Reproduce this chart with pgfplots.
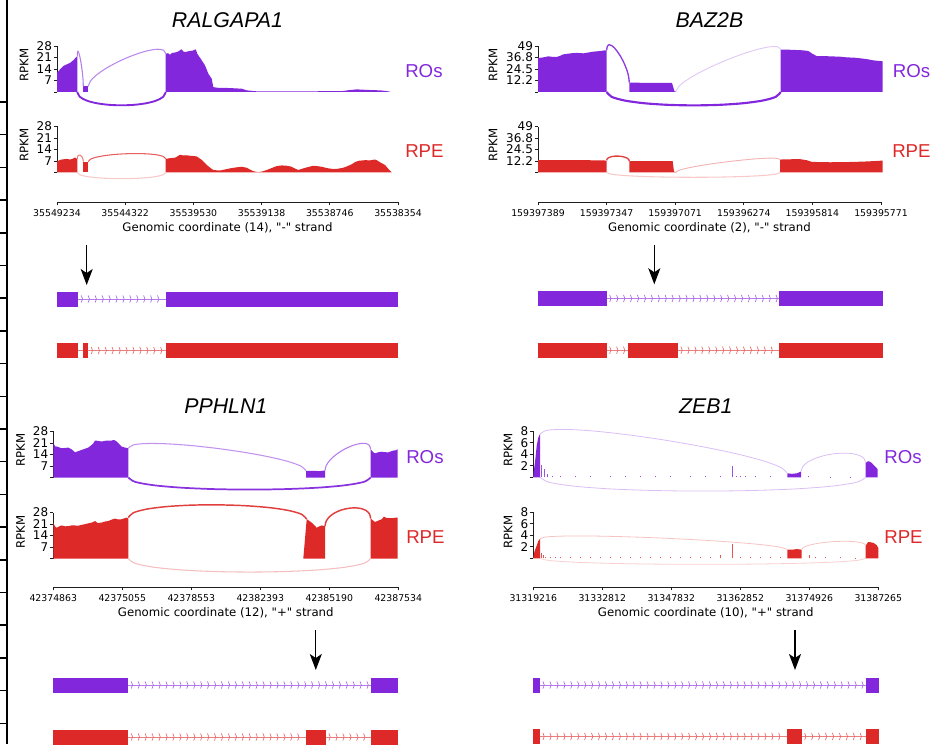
\documentclass[border=0pt]{standalone}
\usepackage{pgfplots}
\pgfplotsset{compat=1.18}
\usepackage{fontspec}
\setmainfont{DejaVu Sans}[Ligatures=TeXOff]
\newfontfamily\arialfont{Liberation Sans}
\usetikzlibrary{arrows.meta,decorations.markings}
\definecolor{ROc}{RGB}{131,39,221}
\definecolor{RPEc}{RGB}{222,41,41}
\definecolor{axc}{RGB}{30,30,30}
\tikzset{
  chev/.style={postaction={decorate,decoration={markings,
    mark=between positions 3pt and -1pt step 5.2pt with {\draw[#1,line width=0.5pt] (-0.8pt,2.7pt) .. controls (0.5pt,1.2pt) and (0.5pt,-1.2pt) .. (-0.8pt,-2.7pt);}}}},
}
\pgfplotsset{
  covaxis/.style={scale only axis, clip=false, axis y line*=left, axis x line=none,
    height=34.5pt, ymin=0, tick align=outside, major tick length=2.4pt,
    every tick/.style={axc,line width=0.6pt}, y axis line style={axc,line width=0.6pt},
    yticklabel style={font=\fontsize{9}{9}\selectfont, inner sep=1.2pt}},
  xonly/.style={scale only axis, clip=false, axis x line*=bottom, axis y line=none,
    height=1pt, ymin=0, ymax=1, tick align=outside, major tick length=2.6pt,
    every tick/.style={axc,line width=0.6pt}, x axis line style={axc,line width=0.6pt},
    xticklabel style={font=\fontsize{7}{7}\selectfont, inner sep=3pt},
    xlabel style={font=\fontsize{8.8}{9}\selectfont, inner sep=1pt}},
  genaxis/.style={scale only axis, clip=false, hide axis, y dir=reverse},
  exon/.style={line width=11.25pt, line cap=butt, color=#1},
  intron/.style={line width=0.6pt, color=#1!60!white},
  cov/.style={fill=#1, draw=none},
  jx/.style={smooth, tension=0.5, color=#1},
}
\newcommand{\ttl}[3]{\node[font=\arialfont\itshape\fontsize{16}{16}\selectfont] at (#1pt,#2pt) {#3};}
\newcommand{\sidelab}[4]{\node[anchor=west, inner sep=0pt, text=#3, font=\arialfont\fontsize{14}{14}\selectfont] at (#1pt,#2pt) {#4};}
\newcommand{\rpkm}[2]{\node[rotate=90, font=\fontsize{8.8}{9}\selectfont] at (#1pt,#2pt) {RPKM};}
\begin{document}
\begin{tikzpicture}
\path[use as bounding box] (0,0) rectangle (699.75pt,558pt);

% left edge
\begin{axis}[at={(5.25pt,0pt)}, anchor=south west, scale only axis, width=1pt, height=558pt,
  xmin=0, xmax=1, ymin=0, ymax=744, y dir=reverse, axis y line*=left, axis x line=none,
  ytick={102,134.7,167.4,200.1,232.8,265.5,298.2,330.9,363.6,396.3,429,461.7,494.4,527.1,559.8,592.5,625.2,657.9,690.6,723.3},
  yticklabel=\empty, tick align=outside, major tick length=5.25pt,
  every tick/.style={black,line width=1.1pt}, y axis line style={black,line width=1.3pt}]
\addplot[draw=none] coordinates {(0,0)};
\end{axis}

% ================= Panel 1 RALGAPA1 =================
\ttl{170.6}{542.6}{RALGAPA1}
\begin{axis}[covaxis, at={(42.75pt,489pt)}, anchor=south west, width=255.75pt,
  xmin=57, xmax=398, ymax=28, ytick={0,7,14,21,28}, yticklabels={,7,14,21,28}]
\addplot[cov=ROc] coordinates {(57,11.5) (60,13.8) (63.3,15.8) (66.7,16.8) (70,17.7) (73.3,19.3) (76,21.1) (77.3,21.9)} \closedcycle;
\addplot[cov=ROc] coordinates {(83.3,3.4) (88.3,3.4)} \closedcycle;
\addplot[cov=ROc] coordinates {(165.7,23.3) (168,23.6) (170,22.7) (172,23.8) (175,24) (178,24.6) (180,25.4) (181.7,26) (183,24.8) (185,24.3) (187,24.6) (190,25) (193,25.2) (195.7,26) (197.3,23.3) (201.7,19.3) (205,16.2) (208.3,11.2) (211.7,8.1) (213.3,3) (216.7,2.6) (230,2.4) (241.7,2) (246.7,1) (256.7,0.4) (300,0.35) (343,0.6) (350,1.2) (356.7,1.6) (363,1.4) (370,1.2) (380,1) (386,0.6) (390,0.2)} \closedcycle;
\addplot[jx=ROc!60!white, line width=0.8pt] coordinates {(77.3,21.9) (77.47,24.08) (77.92,24.78) (78.6,24.2) (79.41,22.59) (80.3,20.15) (81.19,17.11) (82.0,13.7) (82.68,10.12) (83.13,6.62) (83.3,3.4)};
\addplot[jx=ROc!55!white, line width=0.8pt] coordinates {(88.3,3.4) (90.47,6.66) (96.35,10.27) (105.02,14.0) (115.54,17.6) (127.0,20.85) (138.46,23.5) (148.98,25.3) (157.65,26.03) (163.53,25.44) (165.7,23.3)};
\addplot[jx=ROc, line width=1.4pt] coordinates {(77.3,0) (79.78,-2.92) (86.49,-5.18) (96.39,-6.8) (108.42,-7.78) (121.5,-8.1) (134.58,-7.78) (146.61,-6.8) (156.51,-5.18) (163.22,-2.92) (165.7,0)};
\end{axis}
\sidelab{303.75}{504.4}{ROc}{ROs}
\rpkm{18}{509.25}

\begin{axis}[covaxis, at={(42.75pt,428.625pt)}, anchor=south west, width=255.75pt,
  xmin=57, xmax=398, ymax=28, ytick={0,7,14,21,28}, yticklabels={,7,14,21,28}]
\addplot[cov=RPEc] coordinates {(57,6.6) (60,7.7) (63,8) (66.7,8.3) (70,7.9) (72,8.2) (75,9.1) (77.3,8.3)} \closedcycle;
\addplot[cov=RPEc] coordinates {(83.3,6.6) (88.3,6.6)} \closedcycle;
\addplot[cov=RPEc] coordinates {(165.7,8.3) (170,8.7) (175,9) (178,10) (180,10.8) (183,10.4) (186,10.5) (190,10.2) (196.7,9.8) (201.7,7.7) (206.7,4.6) (210,3) (213.3,1.5) (220,1.2) (230,2.5) (236,3.1) (241.7,3.5) (246.7,2.9) (250,1.8) (253.3,0.8) (258.3,0.2) (262,0.6) (266.7,1.5) (272,2.8) (276.7,3.9) (282,4.3) (286.7,4.1) (291,3.6) (293.3,2.9) (298.3,1.5) (303.3,2.5) (308,3.3) (313.3,4.1) (318,3.8) (321.7,3.5) (326.7,2.7) (333.3,2.1) (338,2.3) (343.3,2.9) (348,4) (351.7,5) (355,6.3) (358.3,7.1) (365,7.5) (370,7.4) (375,7.9) (377,7.4) (380,6.2) (385,4.6) (389.3,1.5) (391.7,0.2)} \closedcycle;
\addplot[jx=RPEc!60!white, line width=0.8pt] coordinates {(77.3,8.3) (77.47,9.33) (77.92,10.04) (78.6,10.45) (79.41,10.58) (80.3,10.45) (81.19,10.08) (82.0,9.49) (82.68,8.7) (83.13,7.73) (83.3,6.6)};
\addplot[jx=RPEc!75!white, line width=0.8pt] coordinates {(88.3,6.6) (90.47,8.08) (96.35,9.32) (105.02,10.31) (115.54,11.02) (127.0,11.43) (138.46,11.52) (148.98,11.27) (157.65,10.66) (163.53,9.68) (165.7,8.3)};
\addplot[jx=RPEc!25!white, line width=0.8pt] coordinates {(77.3,0) (79.78,-1.35) (86.49,-2.4) (96.39,-3.15) (108.42,-3.6) (121.5,-3.75) (134.58,-3.6) (146.61,-3.15) (156.51,-2.4) (163.22,-1.35) (165.7,0)};
\end{axis}
\sidelab{303.75}{444.4}{RPEc}{RPE}
\rpkm{18}{449.25}

\begin{axis}[xonly, at={(42.75pt,406.5pt)}, anchor=south west, width=255.75pt, xmin=57, xmax=398,
  xtick={57,125.2,193.4,261.6,329.8,398},
  xticklabels={35549234,35544322,35539530,35539138,35538746,35538354},
  xlabel={Genomic coordinate (14), "-" strand}]
\addplot[draw=none] coordinates {(57,0)};
\end{axis}

\begin{axis}[genaxis, at={(42.75pt,284.25pt)}, anchor=south west, width=255.75pt, height=93.75pt,
  xmin=57, xmax=398, ymin=240, ymax=365]
\addplot[intron=ROc, chev=ROc!70!white] coordinates {(78.3,299) (165.7,299)};
\addplot[exon=ROc] coordinates {(56.7,299) (78.3,299)};
\addplot[exon=ROc] coordinates {(165.7,299) (398.3,299)};
\addplot[intron=RPEc] coordinates {(78.3,350.5) (82.7,350.5)};
\addplot[intron=RPEc, chev=RPEc!70!white] coordinates {(88.3,350.5) (165.7,350.5)};
\addplot[exon=RPEc] coordinates {(56.7,350.5) (78.3,350.5)};
\addplot[exon=RPEc] coordinates {(82.7,350.5) (88.3,350.5)};
\addplot[exon=RPEc] coordinates {(165.7,350.5) (398.3,350.5)};
\addplot[black, line width=1pt, -{Stealth[length=12pt,width=9pt,inset=3pt]}] coordinates {(86.7,245) (86.7,285)};
\end{axis}

% ================= Panel 2 BAZ2B =================
\ttl{532.1}{542.6}{BAZ2B}
\begin{axis}[covaxis, at={(403.5pt,489pt)}, anchor=south west, width=257.25pt,
  xmin=538, xmax=881, ymax=49, ytick={0,12.25,24.5,36.75,49}, yticklabels={,12.2,24.5,36.8,49}]
\addplot[cov=ROc] coordinates {(538,36.2) (543,36.8) (548.3,38) (552,37.5) (556.7,37.3) (560,38.5) (563.3,40.1) (568,40.8) (573.3,41.5) (578,41.6) (583.3,41.2) (588,42) (593.3,43) (600,43.6) (605,44.4) (606.7,44.4)} \closedcycle;
\addplot[cov=ROc] coordinates {(629.3,9.9) (650,9.8) (672,9.6) (674.5,0.8) (676,0.3)} \closedcycle;
\addplot[cov=ROc] coordinates {(780.7,45.1) (790,45) (796.7,44.7) (803,44.4) (808.3,43.7) (812,41) (816.7,38.3) (823,38.3) (830,38) (840,37.6) (846.7,36.9) (855,36.5) (863.3,35.5) (868,34.8) (873.3,33.7) (878,33.2) (882.7,32.7)} \closedcycle;
\addplot[jx=ROc!90!white, line width=1pt] coordinates {(606.7,44.4) (607.33,48.83) (609.05,50.41) (611.58,49.55) (614.66,46.66) (618.0,42.15) (621.35,36.44) (624.42,29.95) (626.95,23.09) (628.67,16.27) (629.3,9.9)};
\addplot[jx=ROc!25!white, line width=0.7pt] coordinates {(676,0.5) (678.93,6.07) (686.89,12.82) (698.62,20.21) (712.85,27.72) (728.35,34.8) (743.85,40.92) (758.08,45.55) (769.81,48.14) (777.77,48.17) (780.7,45.1)};
\addplot[jx=ROc, line width=1.6pt] coordinates {(606.7,0) (611.57,-5.13) (624.8,-9.12) (644.28,-11.97) (667.95,-13.68) (693.7,-14.25) (719.45,-13.68) (743.12,-11.97) (762.6,-9.12) (775.83,-5.13) (780.7,0)};
\end{axis}
\sidelab{669.5}{504.4}{ROc}{ROs}
\rpkm{369.75}{509.25}

\begin{axis}[covaxis, at={(403.5pt,428.625pt)}, anchor=south west, width=257.25pt,
  xmin=538, xmax=881, ymax=49, ytick={0,12.25,24.5,36.75,49}, yticklabels={,12.2,24.5,36.8,49}]
\addplot[cov=RPEc] coordinates {(538,13.1) (560,13.3) (580,13.1) (600,13.0) (606.7,12.7)} \closedcycle;
\addplot[cov=RPEc] coordinates {(629.3,12.2) (650,12.1) (672.7,12) (674,1) (676,0.3)} \closedcycle;
\addplot[cov=RPEc] coordinates {(780,13.8) (790,14.1) (800,14.2) (806.7,13.1) (811.7,11.3) (820,11.1) (830,10.9) (846.7,11.1) (863.3,11.6) (875,12.2) (882.7,12.7)} \closedcycle;
\addplot[jx=RPEc!90!white, line width=1pt] coordinates {(606.7,13) (607.33,14.74) (609.05,16.04) (611.58,16.93) (614.66,17.4) (618.0,17.48) (621.35,17.16) (624.42,16.47) (626.95,15.4) (628.67,13.98) (629.3,12.2)};
\addplot[jx=RPEc!35!white, line width=0.7pt] coordinates {(676,0.3) (678.9,2.3) (686.8,4.58) (698.5,7.0) (712.6,9.37) (728,11.55) (743.4,13.37) (757.5,14.66) (769.2,15.28) (777.1,15.04) (780,13.8)};
\addplot[jx=RPEc!25!white, line width=0.8pt] coordinates {(606.7,0) (611.55,-1.84) (624.72,-3.26) (644.13,-4.28) (667.7,-4.9) (693.35,-5.1) (719.0,-4.9) (742.57,-4.28) (761.98,-3.26) (775.15,-1.84) (780,0)};
\end{axis}
\sidelab{669}{444.4}{RPEc}{RPE}
\rpkm{369.75}{449.25}

\begin{axis}[xonly, at={(403.5pt,406.5pt)}, anchor=south west, width=257.25pt, xmin=538, xmax=881,
  xtick={538,606.6,675.2,743.8,812.4,881},
  xticklabels={159397389,159397347,159397071,159396274,159395814,159395771},
  xlabel={Genomic coordinate (2), "-" strand}]
\addplot[draw=none] coordinates {(538,0)};
\end{axis}

\begin{axis}[genaxis, at={(403.5pt,284.25pt)}, anchor=south west, width=257.25pt, height=93.75pt,
  xmin=538, xmax=881, ymin=240, ymax=365]
\addplot[intron=ROc, chev=ROc!70!white] coordinates {(606.7,298.5) (779.3,298.5)};
\addplot[exon=ROc] coordinates {(537.7,298.5) (606.7,298.5)};
\addplot[exon=ROc] coordinates {(779.3,298.5) (882.7,298.5)};
\addplot[intron=RPEc, chev=RPEc!70!white] coordinates {(606.7,350.2) (628,350.2)};
\addplot[intron=RPEc, chev=RPEc!70!white] coordinates {(678,350.2) (779.3,350.2)};
\addplot[exon=RPEc] coordinates {(537.7,350.2) (606.7,350.2)};
\addplot[exon=RPEc] coordinates {(628,350.2) (678,350.2)};
\addplot[exon=RPEc] coordinates {(779.3,350.2) (882.7,350.2)};
\addplot[black, line width=1pt, -{Stealth[length=12pt,width=9pt,inset=3pt]}] coordinates {(654.3,245) (654.3,284.3)};
\end{axis}

% ================= Panel 3 PPHLN1 =================
\ttl{169.35}{253.1}{PPHLN1}
\begin{axis}[covaxis, at={(39.975pt,199.875pt)}, anchor=south west, width=258.75pt,
  xmin=53.3, xmax=398.3, ymax=28, ytick={0,7,14,21,28}, yticklabels={,7,14,21,28}]
\addplot[cov=ROc] coordinates {(53.3,21.3) (55,19) (57,18.8) (61.7,17.8) (65,18) (68.3,18.2) (72,17) (75,15.3) (78,16) (81.7,16.8) (85,17.5) (88.3,18.2) (91,19.5) (93.3,20.8) (95,22.5) (98,22.3) (101.7,21.9) (106,22.4) (111.7,22.5) (114,22.9) (116.7,21.9) (119,20.5) (121.7,18.8) (125,18.2) (128.3,17.8)} \closedcycle;
\addplot[cov=ROc] coordinates {(306,4.1) (315,4.0) (320,3.9) (325,4.3)} \closedcycle;
\addplot[cov=ROc] coordinates {(370.7,17.2) (373,15.5) (375,14.7) (378,15.3) (381.7,15.7) (385,15.4) (388.3,15.3) (391,15.9) (393.3,16.4) (396,16.6) (397.7,17.2)} \closedcycle;
\addplot[jx=ROc!50!white, line width=0.8pt] coordinates {(128.3,17.8) (133.28,19.85) (146.78,20.7) (166.68,20.51) (190.85,19.46) (217.15,17.7) (243.45,15.4) (267.62,12.73) (287.52,9.84) (301.02,6.91) (306,4.1)};
\addplot[jx=ROc!60!white, line width=0.8pt] coordinates {(325,4.3) (326.28,7.36) (329.75,10.44) (334.87,13.39) (341.09,16.04) (347.85,18.25) (354.61,19.86) (360.83,20.71) (365.95,20.66) (369.42,19.54) (370.7,17.2)};
\addplot[jx=ROc!95!white, line width=1.3pt] coordinates {(128.3,0) (135.09,-2.65) (153.51,-4.7) (180.66,-6.17) (213.62,-7.06) (249.5,-7.35) (285.38,-7.06) (318.34,-6.17) (345.49,-4.7) (363.91,-2.65) (370.7,0)};
\end{axis}
\sidelab{304.5}{215.25}{ROc}{ROs}
\rpkm{15.5}{220.5}

\begin{axis}[covaxis, at={(39.975pt,139.125pt)}, anchor=south west, width=258.75pt,
  xmin=53.3, xmax=398.3, ymax=28, ytick={0,7,14,21,28}, yticklabels={,7,14,21,28}]
\addplot[cov=RPEc] coordinates {(53.3,21.8) (55,19.5) (56.7,18.7) (60,19.8) (61.7,20.1) (65,19.6) (68.3,19.7) (72,20.2) (75,20.1) (78,19.9) (81.7,20.5) (85,20.9) (88.3,21.4) (92,21.9) (95,22.8) (98,21.5) (101.7,21.9) (105,22.5) (108.3,22.8) (111,23.5) (115,24.3) (118,23.8) (121.7,23.9) (124,24.4) (126.7,24.9) (128.3,24.3)} \closedcycle;
\addplot[cov=RPEc] coordinates {(303.3,0) (305,12) (306.7,23.9) (309,23) (311.7,21.8) (314,20.5) (316.7,18.7) (319,19.5) (321.7,20.1) (325,19.7)} \closedcycle;
\addplot[cov=RPEc] coordinates {(370.7,24.3) (373,23.2) (375,22.2) (378,23) (381.7,23.9) (384,25.5) (386,24.8) (388,24.6) (391.7,24.5) (395,24.8) (397.7,24.9)} \closedcycle;
\addplot[jx=RPEc!90!white, line width=1.1pt] coordinates {(128.3,24.9) (133.3,27.84) (146.85,30.08) (166.83,31.61) (191.1,32.47) (217.5,32.65) (243.9,32.17) (268.17,31.05) (288.15,29.28) (301.7,26.9) (306.7,23.9)};
\addplot[jx=RPEc!90!white, line width=1.1pt] coordinates {(325,19.7) (326.28,22.88) (329.75,25.6) (334.87,27.81) (341.09,29.46) (347.85,30.48) (354.61,30.82) (360.83,30.43) (365.95,29.24) (369.42,27.22) (370.7,24.3)};
\addplot[jx=RPEc!30!white, line width=0.8pt] coordinates {(128.3,0) (135.09,-2.97) (153.51,-5.28) (180.66,-6.93) (213.62,-7.92) (249.5,-8.25) (285.38,-7.92) (318.34,-6.93) (345.49,-5.28) (363.91,-2.97) (370.7,0)};
\end{axis}
\sidelab{304.5}{155.5}{RPEc}{RPE}
\rpkm{15.5}{159.2}

\begin{axis}[xonly, at={(39.975pt,117.75pt)}, anchor=south west, width=258.75pt, xmin=53.3, xmax=398.3,
  xtick={53.3,122.3,191.3,260.3,329.3,398.3},
  xticklabels={42374863,42375055,42378553,42382393,42385190,42387534},
  xlabel={Genomic coordinate (12), "+" strand}]
\addplot[draw=none] coordinates {(53.3,0)};
\end{axis}

\begin{axis}[genaxis, at={(39.975pt,0pt)}, anchor=south west, width=258.75pt, height=93pt,
  xmin=53.3, xmax=398.3, ymin=620, ymax=744]
\addplot[intron=ROc, chev=ROc!70!white] coordinates {(128.3,685) (370.7,685)};
\addplot[exon=ROc] coordinates {(53.3,685) (128.3,685)};
\addplot[exon=ROc] coordinates {(370.7,685) (398.3,685)};
\addplot[intron=RPEc, chev=RPEc!70!white] coordinates {(128.3,737) (306,737)};
\addplot[intron=RPEc, chev=RPEc!70!white] coordinates {(326,737) (370.7,737)};
\addplot[exon=RPEc] coordinates {(53.3,737) (128.3,737)};
\addplot[exon=RPEc] coordinates {(306,737) (326,737)};
\addplot[exon=RPEc] coordinates {(370.7,737) (398.3,737)};
\addplot[black, line width=1pt, -{Stealth[length=12pt,width=9pt,inset=3pt]}] coordinates {(315.8,630) (315.8,670)};
\end{axis}

% ================= Panel 4 ZEB1 =================
\ttl{529.35}{253.1}{ZEB1}
\begin{axis}[covaxis, at={(399.975pt,200.025pt)}, anchor=south west, width=258.75pt,
  xmin=533.3, xmax=878.3, ymax=8, ytick={0,2,4,6,8}, yticklabels={,2,4,6,8}]
\addplot[cov=ROc] coordinates {(533.3,0.4) (534.5,2) (535.3,3.1) (536.7,5.5) (538.3,6.9) (540,7.5)} \closedcycle;
\addplot[ycomb, ROc!80!white, line width=0.4pt] coordinates {(541.7,2.2) (544,1.4) (547,0.5) (552,0.3) (560,0.15) (575,0.15) (590,0.15) (610,0.2) (625,0.15) (640,0.2) (655,0.2) (670,0.25) (690,0.2) (705,0.15) (720,0.2) (732.7,2.0) (736,0.3) (740,0.3) (745,0.25) (755,0.2) (770,0.15) (808,0.15) (830,0.1) (850,0.1)};
\addplot[cov=ROc] coordinates {(787.3,0.7) (792,0.6) (797,0.7) (801,1.0)} \closedcycle;
\addplot[cov=ROc] coordinates {(865.7,2.5) (868,2.8) (870,2.7) (871.7,2.5) (875,1.9) (877.7,1.4)} \closedcycle;
\addplot[jx=ROc!30!white, line width=0.6pt] coordinates {(540,7.5) (546.92,8.17) (565.72,8.33) (593.42,8.05) (627.05,7.41) (663.65,6.5) (700.25,5.39) (733.88,4.19) (761.58,2.95) (780.38,1.75) (787.3,0.7)};
\addplot[jx=ROc!30!white, line width=0.6pt] coordinates {(801,1) (802.81,1.88) (807.73,2.65) (814.98,3.27) (823.77,3.76) (833.35,4.08) (842.93,4.2) (851.72,4.13) (858.97,3.83) (863.89,3.3) (865.7,2.5)};
\addplot[jx=ROc!30!white, line width=0.6pt] coordinates {(540,0) (549.12,-0.86) (573.87,-1.54) (610.35,-2.02) (654.65,-2.3) (702.85,-2.4) (751.05,-2.3) (795.35,-2.02) (831.83,-1.54) (856.58,-0.86) (865.7,0)};
\end{axis}
\sidelab{663}{215.5}{ROc}{ROs}
\rpkm{381}{220.5}

\begin{axis}[covaxis, at={(399.975pt,139.275pt)}, anchor=south west, width=258.75pt,
  xmin=533.3, xmax=878.3, ymax=8, ytick={0,2,4,6,8}, yticklabels={,2,4,6,8}]
\addplot[cov=RPEc] coordinates {(533.3,0.2) (534.5,1.2) (536.7,2.2) (538.3,3.0) (540,3.4)} \closedcycle;
\addplot[ycomb, RPEc!80!white, line width=0.4pt] coordinates {(541.7,0.9) (543,0.5) (545,0.3) (550,0.25) (555,0.2) (560,0.2) (570,0.2) (580,0.2) (590,0.2) (600,0.2) (610,0.25) (620,0.2) (630,0.2) (640,0.25) (650,0.2) (660,0.2) (670,0.25) (680,0.2) (690,0.25) (700,0.2) (710,0.3) (720,0.6) (732.7,2.5) (740,0.2) (750,0.2) (760,0.15) (770,0.15) (780,0.15) (809,0.6) (815,0.2) (825,0.15) (840,0.15) (855,0.1)};
\addplot[cov=RPEc] coordinates {(787.3,1.5) (792,1.5) (797,1.6) (801.7,1.5)} \closedcycle;
\addplot[cov=RPEc] coordinates {(865.7,2.2) (868,2.8) (870,2.8) (873.3,2.7) (876.7,2.3) (878.3,1.8)} \closedcycle;
\addplot[jx=RPEc!28!white, line width=0.6pt] coordinates {(540,3.4) (546.92,3.73) (565.72,3.87) (593.42,3.87) (627.05,3.74) (663.65,3.5) (700.25,3.18) (733.88,2.79) (761.58,2.37) (780.38,1.93) (787.3,1.5)};
\addplot[jx=RPEc!28!white, line width=0.6pt] coordinates {(801.7,1.5) (803.49,1.9) (808.36,2.24) (815.52,2.53) (824.23,2.76) (833.7,2.9) (843.17,2.96) (851.88,2.93) (859.04,2.8) (863.91,2.56) (865.7,2.2)};
\addplot[jx=RPEc!22!white, line width=0.6pt] coordinates {(540,0) (549.12,-0.38) (573.87,-0.67) (610.35,-0.88) (654.65,-1.01) (702.85,-1.05) (751.05,-1.01) (795.35,-0.88) (831.83,-0.67) (856.58,-0.38) (865.7,0)};
\end{axis}
\sidelab{663}{155.5}{RPEc}{RPE}
\rpkm{381}{159.2}

\begin{axis}[xonly, at={(399.975pt,117.75pt)}, anchor=south west, width=258.75pt, xmin=533.3, xmax=878.3,
  xtick={533.3,602.3,671.3,740.3,809.3,878.3},
  xticklabels={31319216,31332812,31347832,31362852,31374926,31387265},
  xlabel={Genomic coordinate (10), "+" strand}]
\addplot[draw=none] coordinates {(533.3,0)};
\end{axis}

\begin{axis}[genaxis, at={(399.975pt,0pt)}, anchor=south west, width=258.75pt, height=93pt,
  xmin=533.3, xmax=878.3, ymin=620, ymax=744]
\addplot[intron=ROc, chev=ROc!70!white] coordinates {(540,685) (866,685)};
\addplot[exon=ROc] coordinates {(533.3,685) (540,685)};
\addplot[exon=ROc] coordinates {(866,685) (878.7,685)};
\addplot[intron=RPEc, chev=RPEc!70!white] coordinates {(540,736.5) (787.3,736.5)};
\addplot[intron=RPEc, chev=RPEc!70!white] coordinates {(801.7,736.5) (866,736.5)};
\addplot[exon=RPEc] coordinates {(533.3,736.5) (540,736.5)};
\addplot[exon=RPEc] coordinates {(787.3,736.5) (801.7,736.5)};
\addplot[exon=RPEc] coordinates {(866,736.5) (878.7,736.5)};
\addplot[black, line width=1pt, -{Stealth[length=12pt,width=9pt,inset=3pt]}] coordinates {(795,630) (795,670)};
\end{axis}
\end{tikzpicture}
\end{document}
